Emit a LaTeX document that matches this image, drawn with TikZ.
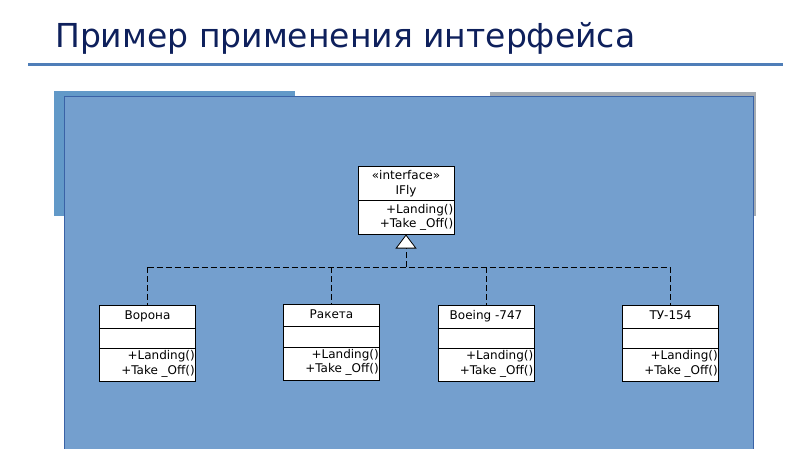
\documentclass[tikz,border=0pt]{standalone}
\usepackage{fontspec}
\setmainfont{DejaVu Sans}
\usetikzlibrary{arrows.meta}

\definecolor{titleblue}{RGB}{14,32,92}
\definecolor{ruleblue}{RGB}{79,126,184}
\definecolor{panelblue}{RGB}{116,159,206}
\definecolor{paneledge}{RGB}{58,98,166}
\definecolor{backblue}{RGB}{98,153,200}
\definecolor{backgrey}{RGB}{166,172,178}

\begin{document}
\begin{tikzpicture}[x=1pt, y=-1pt,
        classbox/.style={draw=black, line width=1pt, fill=white, inner sep=0pt,
            minimum width=96pt, minimum height=76pt},
        umltext/.style={inner sep=0pt, text height=9pt, text depth=3pt,
            font=\fontsize{12}{14}\selectfont},
        realize/.style={line width=0.8pt, dash pattern=on 6pt off 3pt},
        implements/.style={realize, -{Triangle[width=21pt, length=14pt, fill=white]}}]
        % fix the page to the size of the slide
        \useasboundingbox (0,0) rectangle (800,449);
        % slide title and the rule under it
        \node[anchor=base west, inner sep=0pt, text=titleblue,
            font=\fontsize{33}{40}\selectfont] (title) at (55,48) {Пример применения интерфейса};
        \draw[ruleblue, line width=3pt] (28,65) -- (783,65);
        % two pictures lying behind the panel
        \fill[backblue] (54,91) rectangle (295,216);
        \fill[backgrey] (490,92) rectangle (756,216);
        % the blue panel of the diagram
        \fill[panelblue] (64.5,96.5) rectangle (753.5,449);
        \draw[paneledge, line width=1pt] (64.5,449) -- (64.5,96.5) -- (753.5,96.5) -- (753.5,449);
        % interface box with its two compartments
        \node[classbox, anchor=north, minimum height=67pt] (ifly) at (406,166.5) {};
        \node[umltext] (ifly-stereo) at ([yshift=-9.5pt]ifly.north) {«interface»};
        \node[umltext] (ifly-name) at ([yshift=-24.5pt]ifly.north) {IFly};
        \draw[line width=1pt] ([yshift=-34.5pt]ifly.north west) -- ([yshift=-34.5pt]ifly.north east);
        \node[umltext, anchor=east] (ifly-land) at ([xshift=-1pt, yshift=-43.5pt]ifly.north east) {+Landing()};
        \node[umltext, anchor=east] (ifly-take) at ([xshift=-1pt, yshift=-57.5pt]ifly.north east) {+Take \_Off()};
        % repeat drawing one class box for every class
        \foreach \n/\cx/\ty/\t in {vorona/147.5/305/Ворона, raketa/331.5/303.5/Ракета,
                boeing/486/305/Boeing -747, tu/670.5/305/ТУ-154}{
            % box of the class
            \node[classbox, anchor=north] (\n) at (\cx,\ty) {};
            % name of the class
            \node[umltext] (\n-name) at ([yshift=-11.5pt]\n.north) {\t};
            % empty attribute compartment
            \draw[line width=1pt] ([yshift=-23pt]\n.north west) -- ([yshift=-23pt]\n.north east);
            \draw[line width=1pt] ([yshift=-43.5pt]\n.north west) -- ([yshift=-43.5pt]\n.north east);
            % operations, set to the right
            \node[umltext, anchor=east] (\n-land) at ([xshift=-1pt, yshift=-51.5pt]\n.north east) {+Landing()};
            \node[umltext, anchor=east] (\n-take) at ([xshift=-1pt, yshift=-66pt]\n.north east) {+Take \_Off()};
        }
        % realization: dashed bus with the hollow triangle at the interface
        \coordinate (bus) at (406,267);
        \draw[implements] (bus) -- (ifly.south);
        \draw[realize] (vorona.north |- bus) -- (tu.north |- bus);
        \foreach \n in {vorona, raketa, boeing, tu}{
            \draw[realize] (\n.north |- bus) -- (\n.north);
        }
\end{tikzpicture}
\end{document}
